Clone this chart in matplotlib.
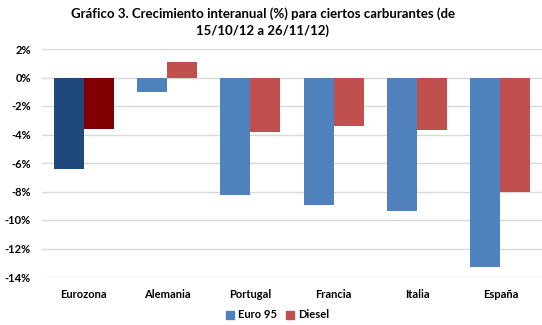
import numpy as np
import matplotlib
matplotlib.use("Agg")
import matplotlib.pyplot as plt
from matplotlib.patches import Patch

# ─── Data ────────────────────────────────────────────────────────────────────
categories = ["Eurozona", "Alemania", "Portugal", "Francia", "Italia", "España"]
euro95 = [-6.4, -1.0, -8.25, -8.95, -9.35, -13.3]
diesel = [-3.6, 1.1, -3.8, -3.4, -3.7, -8.05]
yticks = [2, 0, -2, -4, -6, -8, -10, -12, -14]

BLUE = "#4F81BD"
RED = "#C0504D"
DARK_BLUE = "#1F497D"
DARK_RED = "#800000"
GRID = "#D9D9D9"

plt.rcParams["font.family"] = ["Lato", "DejaVu Sans"]

fig = plt.figure(figsize=(5.42, 3.25), dpi=100)
ax = fig.add_axes([42 / 542, 48 / 325, 500 / 542, 228 / 325])

x = np.arange(len(categories))
w = 0.36
blue_cols = [DARK_BLUE] + [BLUE] * (len(categories) - 1)
red_cols = [DARK_RED] + [RED] * (len(categories) - 1)
ax.bar(x - w / 2, euro95, width=w, color=blue_cols, zorder=3)
ax.bar(x + w / 2, diesel, width=w, color=red_cols, zorder=3)

ax.set_xlim(-0.5, len(categories) - 0.5)
ax.set_ylim(-14, 2)
ax.set_yticks(yticks)
ax.set_yticklabels([f"{v}%" for v in yticks], fontsize=8, fontweight="bold")
ax.set_xticks(x)
ax.set_xticklabels(categories, fontsize=8, fontweight="bold")
ax.tick_params(axis="both", length=0, pad=8)
ax.tick_params(axis="x", pad=9)
ax.yaxis.grid(True, color=GRID, linewidth=1, zorder=0)
for s in ax.spines.values():
    s.set_visible(False)

fig.text(263 / 542, 1 - 22 / 325,
         "Gráfico 3. Crecimiento interanual (%) para ciertos carburantes (de\n15/10/12 a 26/11/12)",
         ha="center", va="center", fontsize=9.5, fontweight="bold",
         linespacing=1.4)

handles = [Patch(color=BLUE, label="Euro 95"), Patch(color=RED, label="Diesel")]
fig.legend(handles=handles, loc="center", bbox_to_anchor=(278 / 542, 1 - 315 / 325),
           ncol=2, frameon=False, prop={"size": 8, "weight": "bold"},
           handlelength=0.7, handleheight=0.7, handletextpad=0.4, columnspacing=0.8)

fig.savefig("out.png", dpi=100)
